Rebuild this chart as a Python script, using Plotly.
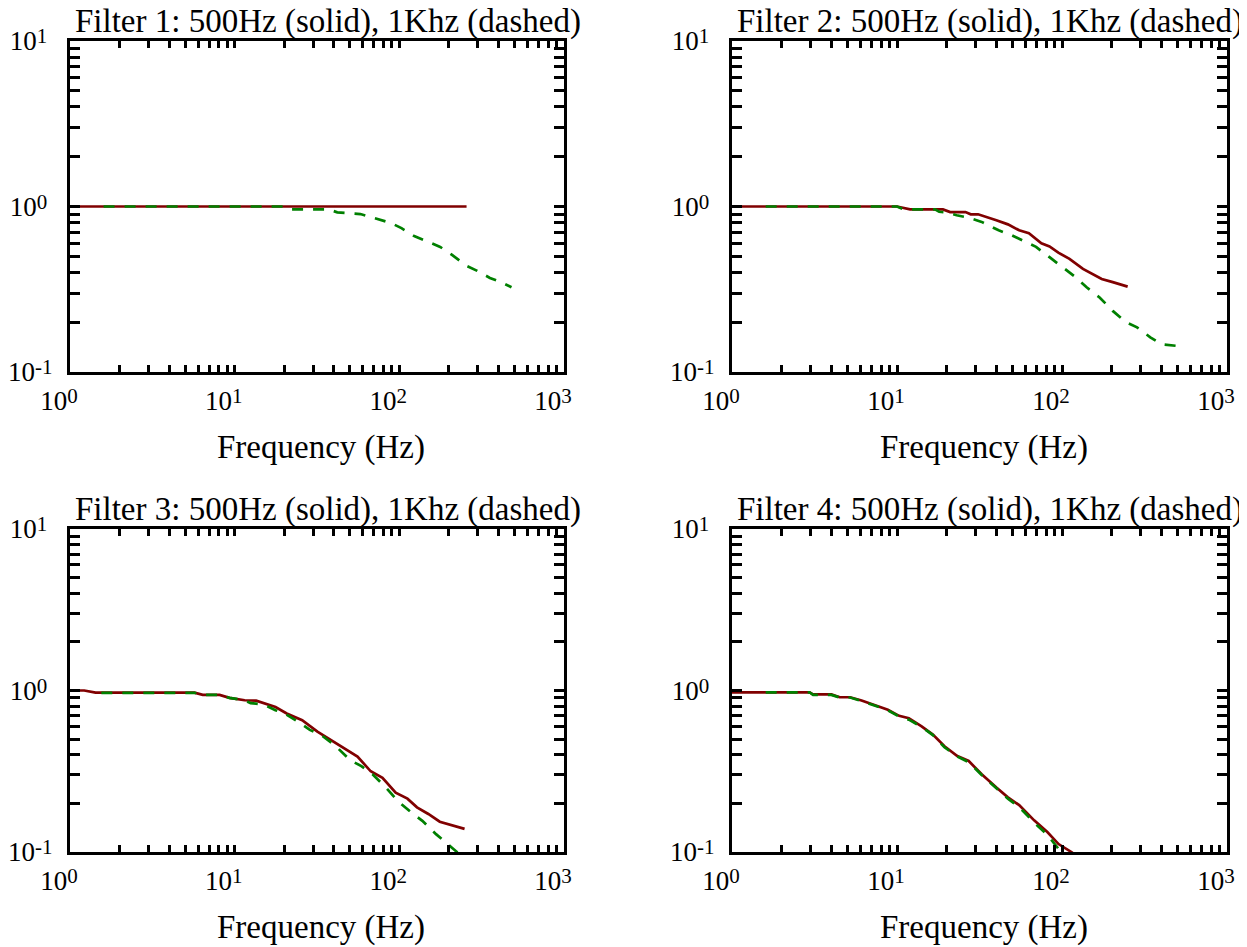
import plotly.graph_objects as go

# ---------------- data ----------------
titles = [
    "Filter 1: 500Hz (solid), 1Khz (dashed)",
    "Filter 2: 500Hz (solid), 1Khz (dashed)",
    "Filter 3: 500Hz (solid), 1Khz (dashed)",
    "Filter 4: 500Hz (solid), 1Khz (dashed)",
]
x_label = "Frequency (Hz)"

# Filter 1
f1_solid = [1, 2, 5, 10, 20, 50, 100, 256]
g1_solid = [1.0, 1.0, 1.0, 1.0, 1.0, 1.0, 1.0, 1.0]
f1_dash = [1.6, 20, 22, 37, 42, 50, 58, 67, 77, 89, 103, 124, 145, 177, 209, 254, 295, 355, 412, 480]
g1_dash = [1.0, 1.0, 0.962, 0.962, 0.922, 0.915, 0.90, 0.865, 0.83, 0.795, 0.74, 0.66, 0.62, 0.57,
           0.51, 0.44, 0.41, 0.37, 0.35, 0.325]

# Filter 2
f2_solid = [1, 10, 12, 19, 21, 26, 28, 31, 40, 47, 55, 63, 75, 84, 95, 111, 134, 174, 203, 250]
g2_solid = [1.0, 1.0, 0.96, 0.96, 0.925, 0.925, 0.897, 0.897, 0.826, 0.78, 0.718, 0.69, 0.60, 0.574,
            0.526, 0.483, 0.42, 0.365, 0.349, 0.328]
f2_dash = [1.6, 10, 11, 17, 18, 20, 23, 27, 32.6, 36.2, 41.3, 49.6, 61, 69.6, 84, 100, 121, 141, 169,
           203, 244, 285, 343, 401, 489]
g2_dash = [1.0, 1.0, 0.96, 0.96, 0.93, 0.92, 0.885, 0.857, 0.807, 0.77, 0.718, 0.67, 0.61, 0.57, 0.494,
           0.43, 0.374, 0.325, 0.282, 0.234, 0.20, 0.186, 0.162, 0.147, 0.144]

# Filter 3
f3_solid = [1, 1.22, 1.43, 5.7, 6.4, 8.1, 9.3, 11.5, 13.5, 17.7, 20.7, 25.7, 31.8, 41.5, 48.7, 55.7,
            67, 79, 95, 112, 128, 150, 176, 207, 249]
g3_solid = [1.0, 1.0, 0.97, 0.97, 0.94, 0.94, 0.90, 0.87, 0.865, 0.79, 0.72, 0.655, 0.556, 0.47, 0.42,
            0.39, 0.316, 0.288, 0.233, 0.214, 0.189, 0.172, 0.154, 0.147, 0.139]
f3_dash = [1.55, 5.7, 6.4, 8.1, 9.3, 11.5, 12.5, 15, 17.7, 20.2, 24.3, 28.6, 33.5, 40.4, 50, 58.8, 69,
           83, 97.8, 118, 138, 167, 207, 230, 260]
g3_dash = [0.968, 0.968, 0.94, 0.94, 0.90, 0.87, 0.835, 0.82, 0.755, 0.72, 0.64, 0.57, 0.53, 0.46,
           0.372, 0.34, 0.302, 0.25, 0.207, 0.176, 0.156, 0.129, 0.107, 0.098, 0.088]

# Filter 4
f4_solid = [1, 2.95, 3.1, 4.0, 4.5, 5.2, 6.1, 7.2, 8.8, 10.3, 11.8, 14.1, 16.5, 19.4, 23.2, 27.2, 32.6,
            40.2, 47, 55, 67.8, 81.5, 95.3, 114, 130]
g4_solid = [0.975, 0.975, 0.946, 0.946, 0.908, 0.908, 0.867, 0.815, 0.76, 0.697, 0.674, 0.6, 0.533,
            0.452, 0.393, 0.366, 0.303, 0.25, 0.218, 0.195, 0.157, 0.133, 0.112, 0.1, 0.09]
f4_dash = [1.6, 2.95, 3.1, 4.0, 4.5, 5.2, 6.1, 7.2, 8.8, 10.3, 11.8, 14.1, 16.5, 19.4, 23.2, 27.2, 32.6,
           40.2, 47, 55, 67.8, 81.5, 95.3, 105]
g4_dash = [0.975, 0.975, 0.94, 0.94, 0.905, 0.905, 0.86, 0.81, 0.755, 0.69, 0.66, 0.595, 0.53, 0.445,
           0.39, 0.36, 0.30, 0.247, 0.214, 0.19, 0.152, 0.128, 0.104, 0.092]

x_major = [1, 10, 100, 1000]
x_exponents = ["0", "1", "2", "3"]
x_minor = [m * 10 ** e for e in range(0, 3) for m in range(2, 10)]
y_major = [0.1, 1, 10]
y_exponents = ["-1", "0", "1"]
y_minor = [m * 10 ** e for e in range(-1, 1) for m in range(2, 10)]

# ---------------- styling / layout ----------------
W, H = 1247, 947
OFF = 8  # page body margin offset of the rendered figure
FONT = "Liberation Serif, Times New Roman, serif"
RED = "#800000"
GREEN = "#008000"
TICK_SIZE = 27
EXP_STYLE = "font-size:21px;baseline-shift:7px"


def power_label(e, pad=False):
    tail = "\u00a0" if (pad and not e.startswith("-")) else ""
    return "10<span style='%s'>%s%s</span>" % (EXP_STYLE, e, tail)


x_major_text = [power_label(e) for e in x_exponents]
y_major_text = [power_label(e, pad=True) for e in y_exponents]

# panel pixel boxes in the screenshot (left, right, top, bottom)
boxes = [(70, 564, 41, 372), (732, 1227, 41, 372), (70, 564, 529, 852), (732, 1227, 529, 852)]
series = [(f1_solid, g1_solid, f1_dash, g1_dash), (f2_solid, g2_solid, f2_dash, g2_dash),
          (f3_solid, g3_solid, f3_dash, g3_dash), (f4_solid, g4_solid, f4_dash, g4_dash)]


def px_x(p):
    return (p - OFF) / W


def px_y(p):
    return (H - (p - OFF)) / H


fig = go.Figure()
layout = dict(
    width=W, height=H, margin=dict(l=0, r=0, t=0, b=0, autoexpand=False),
    paper_bgcolor="white", plot_bgcolor="white", showlegend=False,
    font=dict(family=FONT, color="black", size=TICK_SIZE),
)
annotations = []
for i, ((l, r, t, b), (fs, gs, fd, gd)) in enumerate(zip(boxes, series)):
    n = "" if i == 0 else str(i + 1)
    xa, ya = "x" + n, "y" + n
    fig.add_trace(go.Scatter(x=fs, y=gs, mode="lines", xaxis=xa, yaxis=ya,
                             line=dict(color=RED, width=2.7), hoverinfo="skip"))
    fig.add_trace(go.Scatter(x=fd, y=gd, mode="lines", xaxis=xa, yaxis=ya,
                             line=dict(color=GREEN, width=2.7, dash="11px,10px"), hoverinfo="skip"))
    xd = [px_x(l), px_x(r)]
    yd = [px_y(b), px_y(t)]
    layout["xaxis" + n] = dict(
        type="log", range=[0, 3], domain=xd, anchor=ya,
        tickmode="array", tickvals=x_major, ticktext=x_major_text, tickangle=0,
        ticks="inside", ticklen=7, tickwidth=2.5, tickcolor="black",
        minor=dict(tickmode="array", tickvals=x_minor, ticks="inside", ticklen=7, tickwidth=2.5,
                   tickcolor="black", showgrid=False),
        showline=True, linewidth=3, linecolor="black", mirror="allticks",
        showgrid=False, zeroline=False, tickfont=dict(size=TICK_SIZE, family=FONT),
        ticklabelshift=-11, ticklabelstandoff=3, fixedrange=True, automargin=False,
    )
    layout["yaxis" + n] = dict(
        type="log", range=[-1, 1], domain=yd, anchor=xa,
        tickmode="array", tickvals=y_major, ticktext=y_major_text,
        ticks="inside", ticklen=10, tickwidth=2.5, tickcolor="black",
        minor=dict(tickmode="array", tickvals=y_minor, ticks="inside", ticklen=10, tickwidth=2.5,
                   tickcolor="black", showgrid=False),
        showline=True, linewidth=3, linecolor="black", mirror="allticks",
        showgrid=False, zeroline=False, tickfont=dict(size=TICK_SIZE, family=FONT),
        ticklabelstandoff=9, fixedrange=True, automargin=False,
    )
    # panel title
    annotations.append(dict(
        text=titles[i], xref="paper", yref="paper", x=xd[0], y=yd[1],
        xanchor="left", yanchor="bottom", xshift=3, yshift=-1, showarrow=False,
        font=dict(size=33, family=FONT, color="black"),
    ))
    # x-axis title
    annotations.append(dict(
        text=x_label, xref="paper", yref="paper", x=(xd[0] + xd[1]) / 2, y=px_y(b + 75),
        xanchor="center", yanchor="middle", xshift=4, showarrow=False,
        font=dict(size=33, family=FONT, color="black"),
    ))

layout["annotations"] = annotations
fig.update_layout(**layout)
fig.write_html("out.html")
